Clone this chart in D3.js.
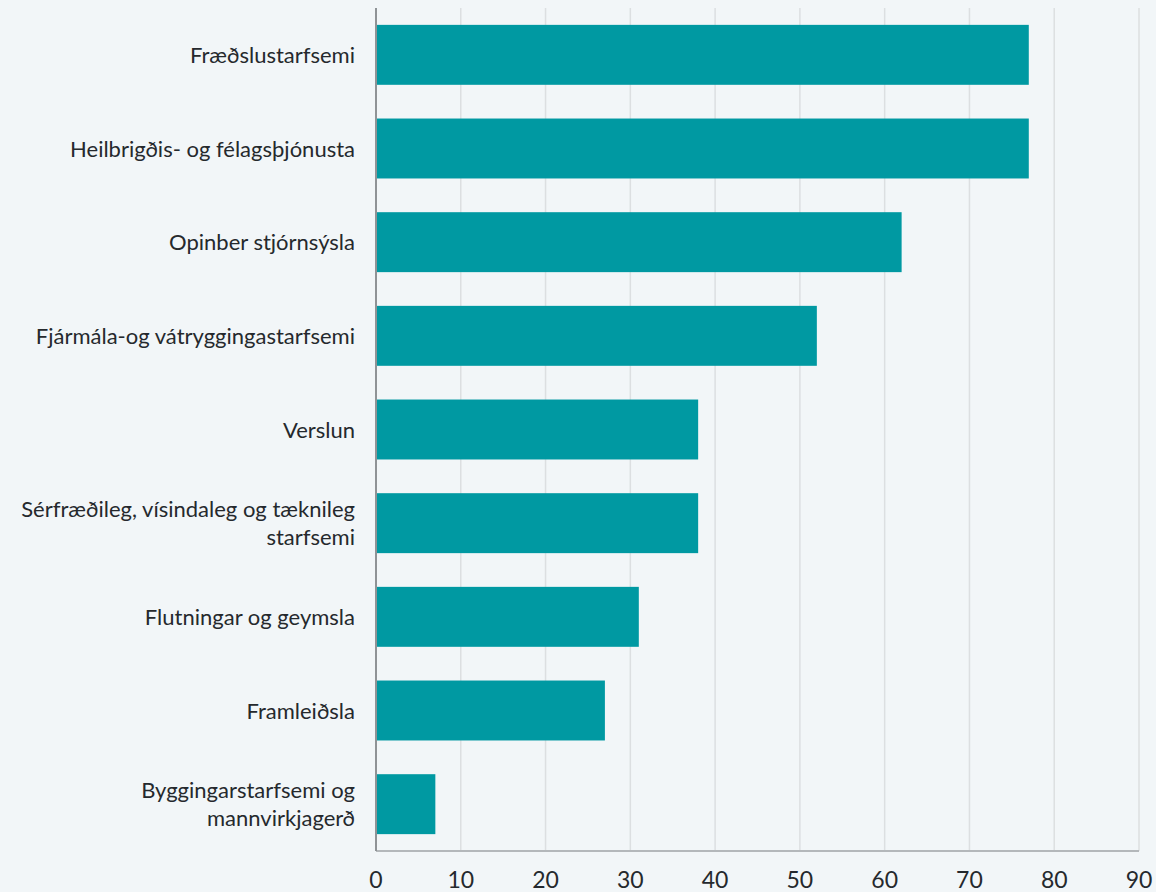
<!DOCTYPE html>
<html lang="en">
<head>
<meta charset="utf-8">
<script src="https://d3js.org/d3.v7.min.js"></script>
<style>
  body { margin: 0; background: #f2f6f8; }
  svg { display: block; font-family: Lato, "Open Sans", sans-serif; }
</style>
</head>
<body>
<svg id="chart"></svg>
<script>
// data
var categories = [
  ["Fræðslustarfsemi"],
  ["Heilbrigðis- og félagsþjónusta"],
  ["Opinber stjórnsýsla"],
  ["Fjármála-og vátryggingastarfsemi"],
  ["Verslun"],
  ["Sérfræðileg, vísindaleg og tæknileg", "starfsemi"],
  ["Flutningar og geymsla"],
  ["Framleiðsla"],
  ["Byggingarstarfsemi og", "mannvirkjagerð"]
];
var values = [77, 77, 62, 52, 38, 38, 31, 27, 7];
var xTicks = [0, 10, 20, 30, 40, 50, 60, 70, 80, 90];

var width = 1156, height = 892;
var margin = {top: 8, right: 17, bottom: 41, left: 376};

var svg = d3.select("#chart").attr("width", width).attr("height", height);

var x = d3.scaleLinear().domain([0, 90]).range([margin.left, width - margin.right]);
var y = d3.scaleBand()
  .domain(d3.range(categories.length))
  .range([margin.top, height - margin.bottom])
  .paddingInner(0.36)
  .paddingOuter(0.18);

// gridlines
svg.append("g")
  .selectAll("line")
  .data(xTicks.slice(1))
  .enter().append("line")
    .attr("x1", function(d) { return x(d); })
    .attr("x2", function(d) { return x(d); })
    .attr("y1", margin.top)
    .attr("y2", height - margin.bottom)
    .attr("stroke", "#dcdfe1")
    .attr("stroke-width", 1.5);

// bars
svg.append("g")
  .selectAll("rect")
  .data(values)
  .enter().append("rect")
    .attr("x", x(0))
    .attr("y", function(d, i) { return y(i); })
    .attr("width", function(d) { return x(d) - x(0); })
    .attr("height", y.bandwidth())
    .attr("fill", "#0099a2");

// bottom axis line
svg.append("line")
  .attr("x1", x(0)).attr("x2", x(90))
  .attr("y1", height - margin.bottom).attr("y2", height - margin.bottom)
  .attr("stroke", "#b4b8bb").attr("stroke-width", 2);

// left axis line
svg.append("line")
  .attr("x1", x(0)).attr("x2", x(0))
  .attr("y1", margin.top).attr("y2", height - margin.bottom)
  .attr("stroke", "#8f9396").attr("stroke-width", 2);

// x tick labels
svg.append("g")
  .selectAll("text")
  .data(xTicks)
  .enter().append("text")
    .attr("x", function(d) { return x(d); })
    .attr("y", 888)
    .attr("text-anchor", "middle")
    .attr("font-size", 23)
    .attr("fill", "#25292d")
    .text(function(d) { return d; });

// category labels
var labels = svg.append("g")
  .selectAll("text")
  .data(categories)
  .enter().append("text")
    .attr("text-anchor", "end")
    .attr("font-size", 22)
    .attr("fill", "#25292d")
    .attr("y", function(d, i) {
      var c = y(i) + y.bandwidth() / 2;
      return c - (d.length - 1) * 14 + 8;
    });

labels.selectAll("tspan")
  .data(function(d) { return d; })
  .enter().append("tspan")
    .attr("x", 355)
    .attr("dy", function(d, i) { return i === 0 ? 0 : 28; })
    .text(function(d) { return d; });
</script>
</body>
</html>
